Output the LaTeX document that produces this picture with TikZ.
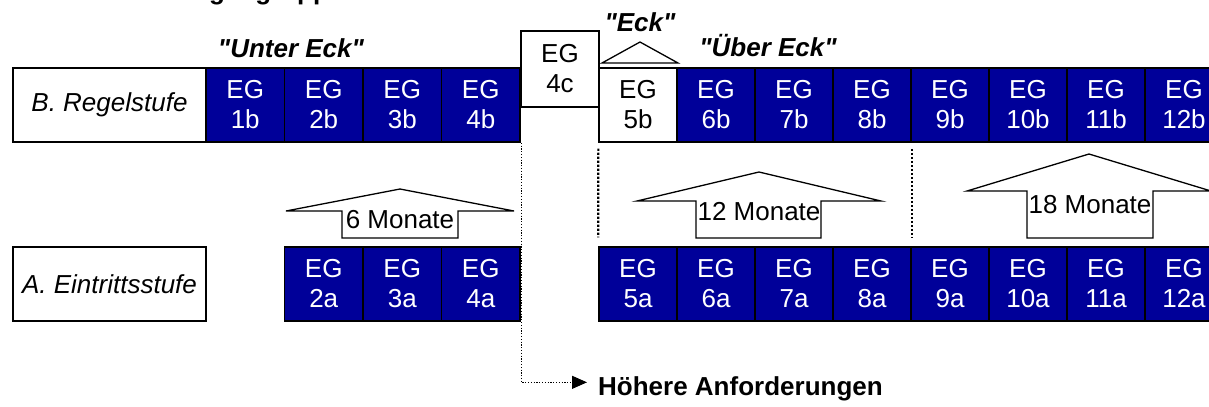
\documentclass[tikz,border=0pt]{standalone}
\usepackage{fontspec}
\setmainfont{Liberation Sans}
\newfontfamily\qfont{Liberation Sans}
\usetikzlibrary{arrows.meta}
\definecolor{egblue}{RGB}{0,0,153}
\newcommand{\egfont}{\fontsize{26bp}{30bp}\selectfont}
\begin{document}
\begin{tikzpicture}[x=1bp,y=-1bp,
  eg/.style={draw=black, line width=1.5bp, fill=egblue, text=white,
    minimum width=78bp, minimum height=74bp, inner sep=0pt,
    align=center, font=\egfont},
  wg/.style={eg, fill=white, text=black, line width=1.3bp},
  stufe/.style={draw=black, line width=1.3bp, fill=white,
    minimum width=193bp, minimum height=74bp, inner sep=0pt,
    font=\egfont\itshape},
  monat/.style={draw=black, line width=1.3bp, fill=white, line join=miter},
  mtext/.style={font=\egfont, inner sep=0pt},
  ttl/.style={font=\qfont\egfont\bfseries\itshape, inner sep=0pt},
  dotthin/.style={line width=1.1bp, dash pattern=on 1.2bp off 1.6bp},
  dotthick/.style={line width=2.2bp, dash pattern=on 2.2bp off 1.8bp}]
\useasboundingbox (0,0) rectangle (1209,406);
\clip (0,0) rectangle (1209,406);
\fill[white] (0,0) rectangle (1209,406);

% cut-off heading
\node[font=\egfont\bfseries, anchor=base west, inner sep=0pt] (head) at (167,-1) {Entgeltgruppen};

% row labels
\node[stufe] (reg) at (109.5,105) {B. Regelstufe};
\node[stufe] (ein) at (109.5,284) {A. Eintrittsstufe};

% Regelstufe row
\foreach \i in {1,...,4}
  \node[eg, minimum width=78.5bp] (b\i) at ({245.25+78.5*(\i-1)},105) {EG\\\i b};
\node[wg, minimum height=76bp] (c4) at (560,69) {EG\\4c};
\node[wg] (b5) at (638,105) {EG\\5b};
\foreach \i in {6,...,12}
  \node[eg] (b\i) at ({638+78*(\i-5)},105) {EG\\\i b};

% Eintrittsstufe row
\foreach \i in {2,3,4}
  \node[eg, minimum width=78.5bp] (a\i) at ({245.25+78.5*(\i-1)},284) {EG\\\i a};
\foreach \i in {5,...,12}
  \node[eg] (a\i) at ({638+78*(\i-5)},284) {EG\\\i a};

% titles
\node[ttl] (unter) at (291,48) {"Unter Eck"};
\node[ttl] (eck) at (640,22) {"Eck"};
\node[ttl] (ueber) at (768,46) {"Über Eck"};
\draw[monat] (602,63) -- (640,42) -- (678,63) -- cycle;

% block arrows
\draw[monat] (342,238) -- (342,211) -- (286,211) -- (400,189) -- (514,211) -- (458,211) -- (458,238) -- cycle;
\node[mtext] (m6) at (400,220) {6 Monate};
\draw[monat] (696,238) -- (696,201) -- (637,201) -- (759,172) -- (881,201) -- (821,201) -- (821,238) -- cycle;
\node[mtext] (m12) at (759,212) {12 Monate};
\draw[monat] (1027,238) -- (1027,191) -- (967,191) -- (1089,154) -- (1211,191) -- (1153,191) -- (1153,238) -- cycle;
\node[mtext] (m18) at (1090,205) {18 Monate};

% dotted separators
\draw[dotthick] ([yshift=-6bp]b5.south west) -- ([yshift=9bp]a5.north west);
\draw[dotthick] ([yshift=-6bp]b8.south east) -- ([yshift=9bp]a8.north east);

% higher requirements
\node[font=\egfont\bfseries, anchor=base west, inner sep=0pt] (hoe) at (598,395) {Höhere Anforderungen};
\draw[dotthin, -{Triangle[length=15bp,width=13bp]}]
  ([xshift=0.5bp]b4.south east) |- ([yshift=6bp,xshift=-11bp]hoe.west);
\end{tikzpicture}
\end{document}
